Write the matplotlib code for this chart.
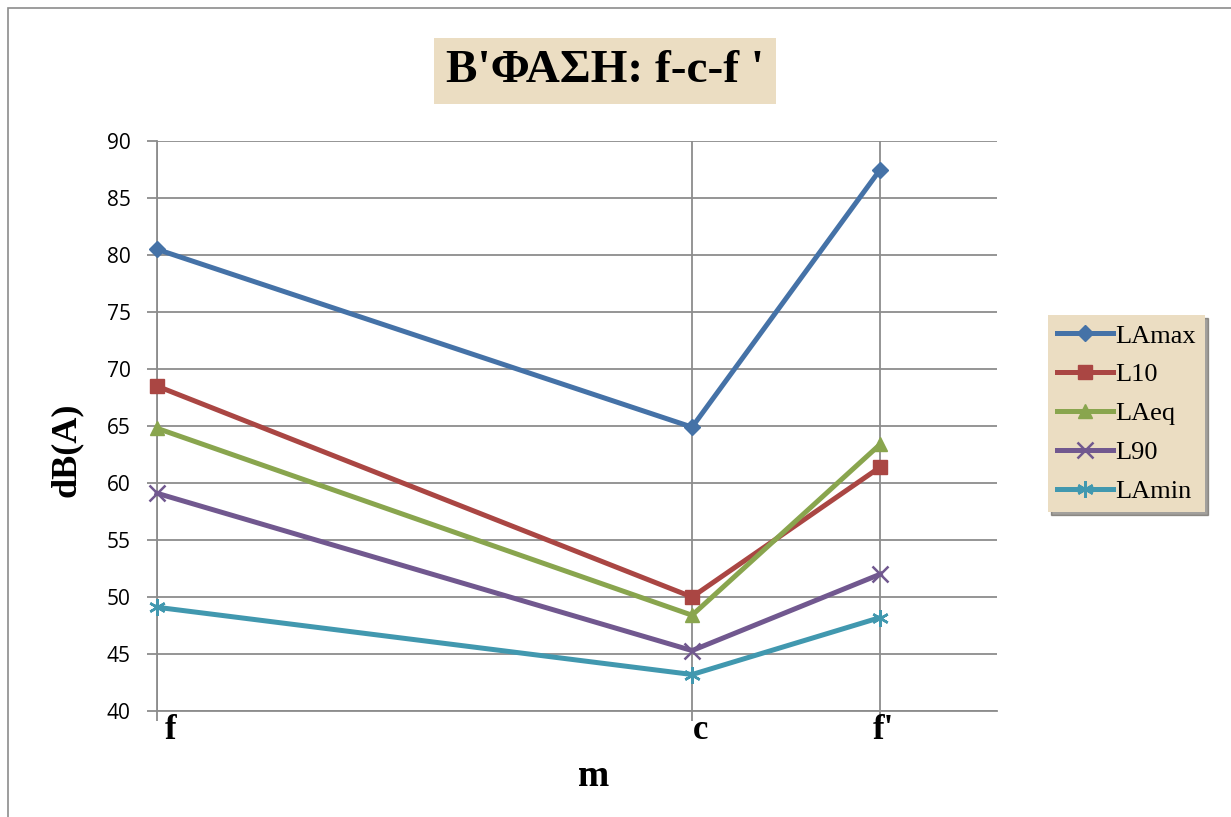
import matplotlib
matplotlib.use("Agg")
from matplotlib import pyplot as plt
from matplotlib.patches import Rectangle

# measurement points along the route (relative position) and their labels
points = ["f", "c", "f'"]
positions = [0.0, 6.37, 8.61]

series_names = ["LAmax", "L10", "LAeq", "L90", "LAmin"]
lamax = [80.5, 64.9, 87.5]
l10 = [68.5, 50.0, 61.4]
laeq = [64.8, 48.4, 63.4]
l90 = [59.1, 45.3, 52.0]
lamin = [49.1, 43.2, 48.2]

colors = ["#4572A7", "#AA4643", "#89A54E", "#71588F", "#4198AF"]
markers = ["D", "s", "^", "x", (6, 2, 0)]
msizes = [8, 10, 10, 11, 12]

parchment = "#EBDDC2"
serif = "Liberation Serif"

fig = plt.figure(figsize=(12.31, 8.17), dpi=100)
fig.patch.set_facecolor("white")

# outer chart border (only top and left edge visible in the crop)
fig.patches.append(Rectangle((8 / 1231, -0.1), 1.2, 1.1 - 8 / 817,
							 transform=fig.transFigure, fill=False,
							 edgecolor="#8c8c8c", linewidth=1.2))

ax = fig.add_axes([157 / 1231, 1 - 711 / 817, (997 - 157) / 1231, (711 - 141) / 817])

all_values = [lamax, l10, laeq, l90, lamin]
for name, vals, c, m, ms in zip(series_names, all_values, colors, markers, msizes):
	ax.plot(positions, vals, color=c, linewidth=3.6, marker=m, markersize=ms,
			markeredgewidth=1.8 if m in ("x", (6, 2, 0)) else 1, label=name,
			zorder=3, clip_on=False)

ax.set_xlim(0, 10)
ax.set_ylim(40, 90)
ax.set_yticks(range(40, 91, 5))
ax.set_xticks(positions)
ax.set_xticklabels([])
# point labels, nudged a little the way the original sits them
for p, lab, dx in zip(positions, points, [8, 1, -7]):
	ax.annotate(lab, xy=(p, 0), xycoords=("data", "axes fraction"),
				xytext=(dx, -3), textcoords="offset pixels", ha="left", va="top",
				fontfamily=serif, fontweight="bold", fontsize=25)
for t in ax.get_yticklabels():
	t.set_fontsize(15)
	t.set_fontfamily("Open Sans")

ax.grid(True, color="#8c8c8c", linewidth=1.3, zorder=0)
ax.tick_params(axis="both", direction="out", length=7, color="#8c8c8c", width=1.3)
ax.tick_params(axis="y", pad=12)
for side in ["top", "right"]:
	ax.spines[side].set_visible(False)
for side in ["left", "bottom"]:
	ax.spines[side].set_color("#8c8c8c")
	ax.spines[side].set_linewidth(1.3)

ax.set_xlabel("m", fontfamily=serif, fontweight="bold", fontsize=27)
ax.xaxis.set_label_coords(0.52, -0.085)
ax.set_ylabel("dB(A)", fontfamily=serif, fontweight="bold", fontsize=26)
ax.yaxis.set_label_coords(-0.088, 0.458)

fig.text(605 / 1231, 1 - 71 / 817, "Β'ΦΑΣΗ: f-c-f '", ha="center", va="center",
		 fontfamily=serif, fontweight="bold", fontsize=34,
		 bbox=dict(boxstyle="square,pad=0.25", facecolor=parchment, edgecolor="none"))

leg = ax.legend(loc="upper left", bbox_to_anchor=(1048 / 1231, 1 - 315 / 817),
				bbox_transform=fig.transFigure, prop={"family": serif, "size": 19},
				handlelength=2.1, handletextpad=0.1, labelspacing=0.58,
				borderpad=0.35, borderaxespad=0, fancybox=False, shadow=True,
				framealpha=1, facecolor=parchment, edgecolor="none")

fig.savefig("out.png", dpi=100)
